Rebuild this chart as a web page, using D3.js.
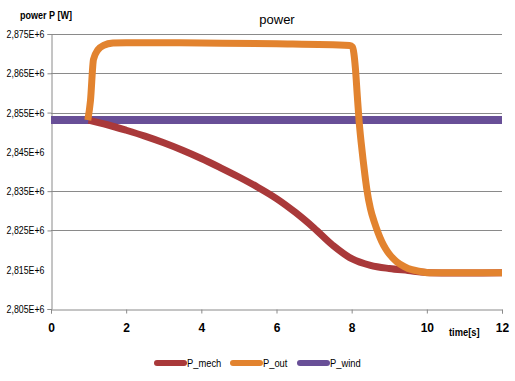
<!DOCTYPE html>
<html><head><meta charset="utf-8">
<script src="https://cdn.jsdelivr.net/npm/d3@7"></script>
<style>
body{margin:0;background:#fff;}
text{font-family:"Liberation Sans",Arial,sans-serif;fill:#000;}
</style></head>
<body><svg id="c" width="515" height="381"></svg>
<script>
const yTicks = [2.805e6, 2.815e6, 2.825e6, 2.835e6, 2.845e6, 2.855e6, 2.865e6, 2.875e6];
const yGrid = [2.825e6, 2.835e6, 2.855e6, 2.865e6, 2.875e6];
const xTicks = [0, 2, 4, 6, 8, 10, 12];
const seriesNames = ["P_mech", "P_out", "P_wind"];

const mechT = [1.0, 1.5, 2.0, 2.5, 3.0, 3.5, 4.0, 4.5, 5.0, 5.5, 6.0, 6.5, 7.0, 7.5, 8.0, 8.5, 9.0, 9.5, 10.0, 12.0];
const mechV = [2.8531e6, 2.8519e6, 2.8505e6, 2.8490e6, 2.8473e6, 2.8454e6, 2.8433e6, 2.8410e6, 2.8386e6, 2.8360e6, 2.8331e6, 2.8296e6, 2.8256e6, 2.8212e6, 2.8178e6, 2.8161e6, 2.8153e6, 2.8148e6, 2.8143e6, 2.8142e6];

const outT = [0.98, 1.05, 1.13, 1.25, 1.4, 1.65, 2.0, 4.0, 6.0, 7.95, 8.02, 8.06, 8.1, 8.15, 8.2, 8.25, 8.3, 8.35, 8.4, 8.5, 8.6, 8.7, 8.8, 8.9, 9.0, 9.2, 9.4, 9.6, 9.8, 10.1, 12.0];
const outV = [2.8531e6, 2.8580e6, 2.8685e6, 2.8710e6, 2.8721e6, 2.8727e6, 2.8728e6, 2.8727e6, 2.8725e6, 2.8721e6, 2.8717e6, 2.8700e6, 2.8662e6, 2.8592e6, 2.8526e6, 2.8476e6, 2.8433e6, 2.8393e6, 2.8357e6, 2.8305e6, 2.8272e6, 2.8245e6, 2.8222e6, 2.8204e6, 2.8190e6, 2.8170e6, 2.8158e6, 2.8150e6, 2.8146e6, 2.8142e6, 2.8142e6];

const windT = [0, 12];
const windV = [2.8531e6, 2.8531e6];

const colors = {P_mech: "#A9393A", P_out: "#E2832F", P_wind: "#684F97"};

const svg = d3.select("#c");
const x = d3.scaleLinear().domain([0, 12]).range([51, 502]);
const y = d3.scaleLinear().domain([2.805e6, 2.875e6]).range([309, 34]);
const fmt = v => (v / 1e6).toFixed(3).replace(".", ",") + "E+6";

// gridlines
svg.append("g").selectAll("line").data(yGrid).join("line")
  .attr("x1", x(0)).attr("x2", x(12))
  .attr("y1", d => Math.round(y(d)) + 0.5).attr("y2", d => Math.round(y(d)) + 0.5)
  .attr("stroke", "#8a8a8a").attr("stroke-width", 1);

// y axis
const ya = svg.append("g").attr("transform", `translate(${x(0) + 0.5},0)`)
  .call(d3.axisLeft(y).tickValues(yTicks).tickFormat(fmt).tickSize(4).tickPadding(7));
ya.select(".domain").attr("stroke", "#8a8a8a");
ya.selectAll(".tick line").attr("stroke", "#8a8a8a").attr("opacity", d => yGrid.includes(d) || d === 2.805e6 ? 1 : 0);
ya.selectAll(".tick text").attr("font-size", 11).attr("font-family", '"Liberation Sans",sans-serif').attr("fill", "#000")
  .attr("x", null)
  .attr("transform", "translate(-7,0) scale(0.8,1)");

// x axis
const xa = svg.append("g").attr("transform", `translate(0,${Math.round(y(2.805e6)) + 0.5})`)
  .call(d3.axisBottom(x).tickValues(xTicks).tickFormat(d3.format("d")).tickSize(4).tickPadding(10));
xa.select(".domain").attr("stroke", "#8a8a8a");
xa.selectAll(".tick line").attr("stroke", "#8a8a8a");
xa.selectAll(".tick text").attr("font-size", 12).attr("font-weight", "bold").attr("font-family", '"Liberation Sans",sans-serif').attr("fill", "#000");

const line = d3.line().x(d => x(d[0])).y(d => y(d[1])).curve(d3.curveMonotoneX);
const smooth = d3.line().x(d => x(d[0])).y(d => y(d[1])).curve(d3.curveCatmullRom.alpha(0.5));

svg.append("path").datum(windT.map((t, i) => [t, windV[i]]))
  .attr("d", line).attr("fill", "none").attr("stroke", colors.P_wind).attr("stroke-width", 8);
svg.append("path").datum(mechT.map((t, i) => [t, mechV[i]]))
  .attr("d", smooth).attr("fill", "none").attr("stroke", colors.P_mech).attr("stroke-width", 7).attr("stroke-linejoin", "round");
svg.append("path").datum(outT.map((t, i) => [t, outV[i]]))
  .attr("d", line).attr("fill", "none").attr("stroke", colors.P_out).attr("stroke-width", 7).attr("stroke-linejoin", "round");

// titles
svg.append("text").attr("x", 277).attr("y", 24).attr("text-anchor", "middle").attr("font-size", 13).text("power");
svg.append("text").attr("font-size", 11).attr("font-weight", "bold")
  .attr("transform", "translate(20,19) scale(0.82,1)").text("power P [W]");
svg.append("text").attr("font-size", 11).attr("font-weight", "bold")
  .attr("transform", "translate(449,336) scale(0.85,1)").text("time[s]");

// legend
const legX = [157, 233, 300];
const lg = svg.append("g");
seriesNames.forEach((n, i) => {
  lg.append("line").attr("x1", legX[i]).attr("x2", legX[i] + 27).attr("y1", 363).attr("y2", 363)
    .attr("stroke", colors[n]).attr("stroke-width", 6).attr("stroke-linecap", "round");
  lg.append("text").attr("font-size", 11)
    .attr("transform", `translate(${legX[i] + 30},367) scale(0.85,1)`).text(n);
});
</script></body></html>
